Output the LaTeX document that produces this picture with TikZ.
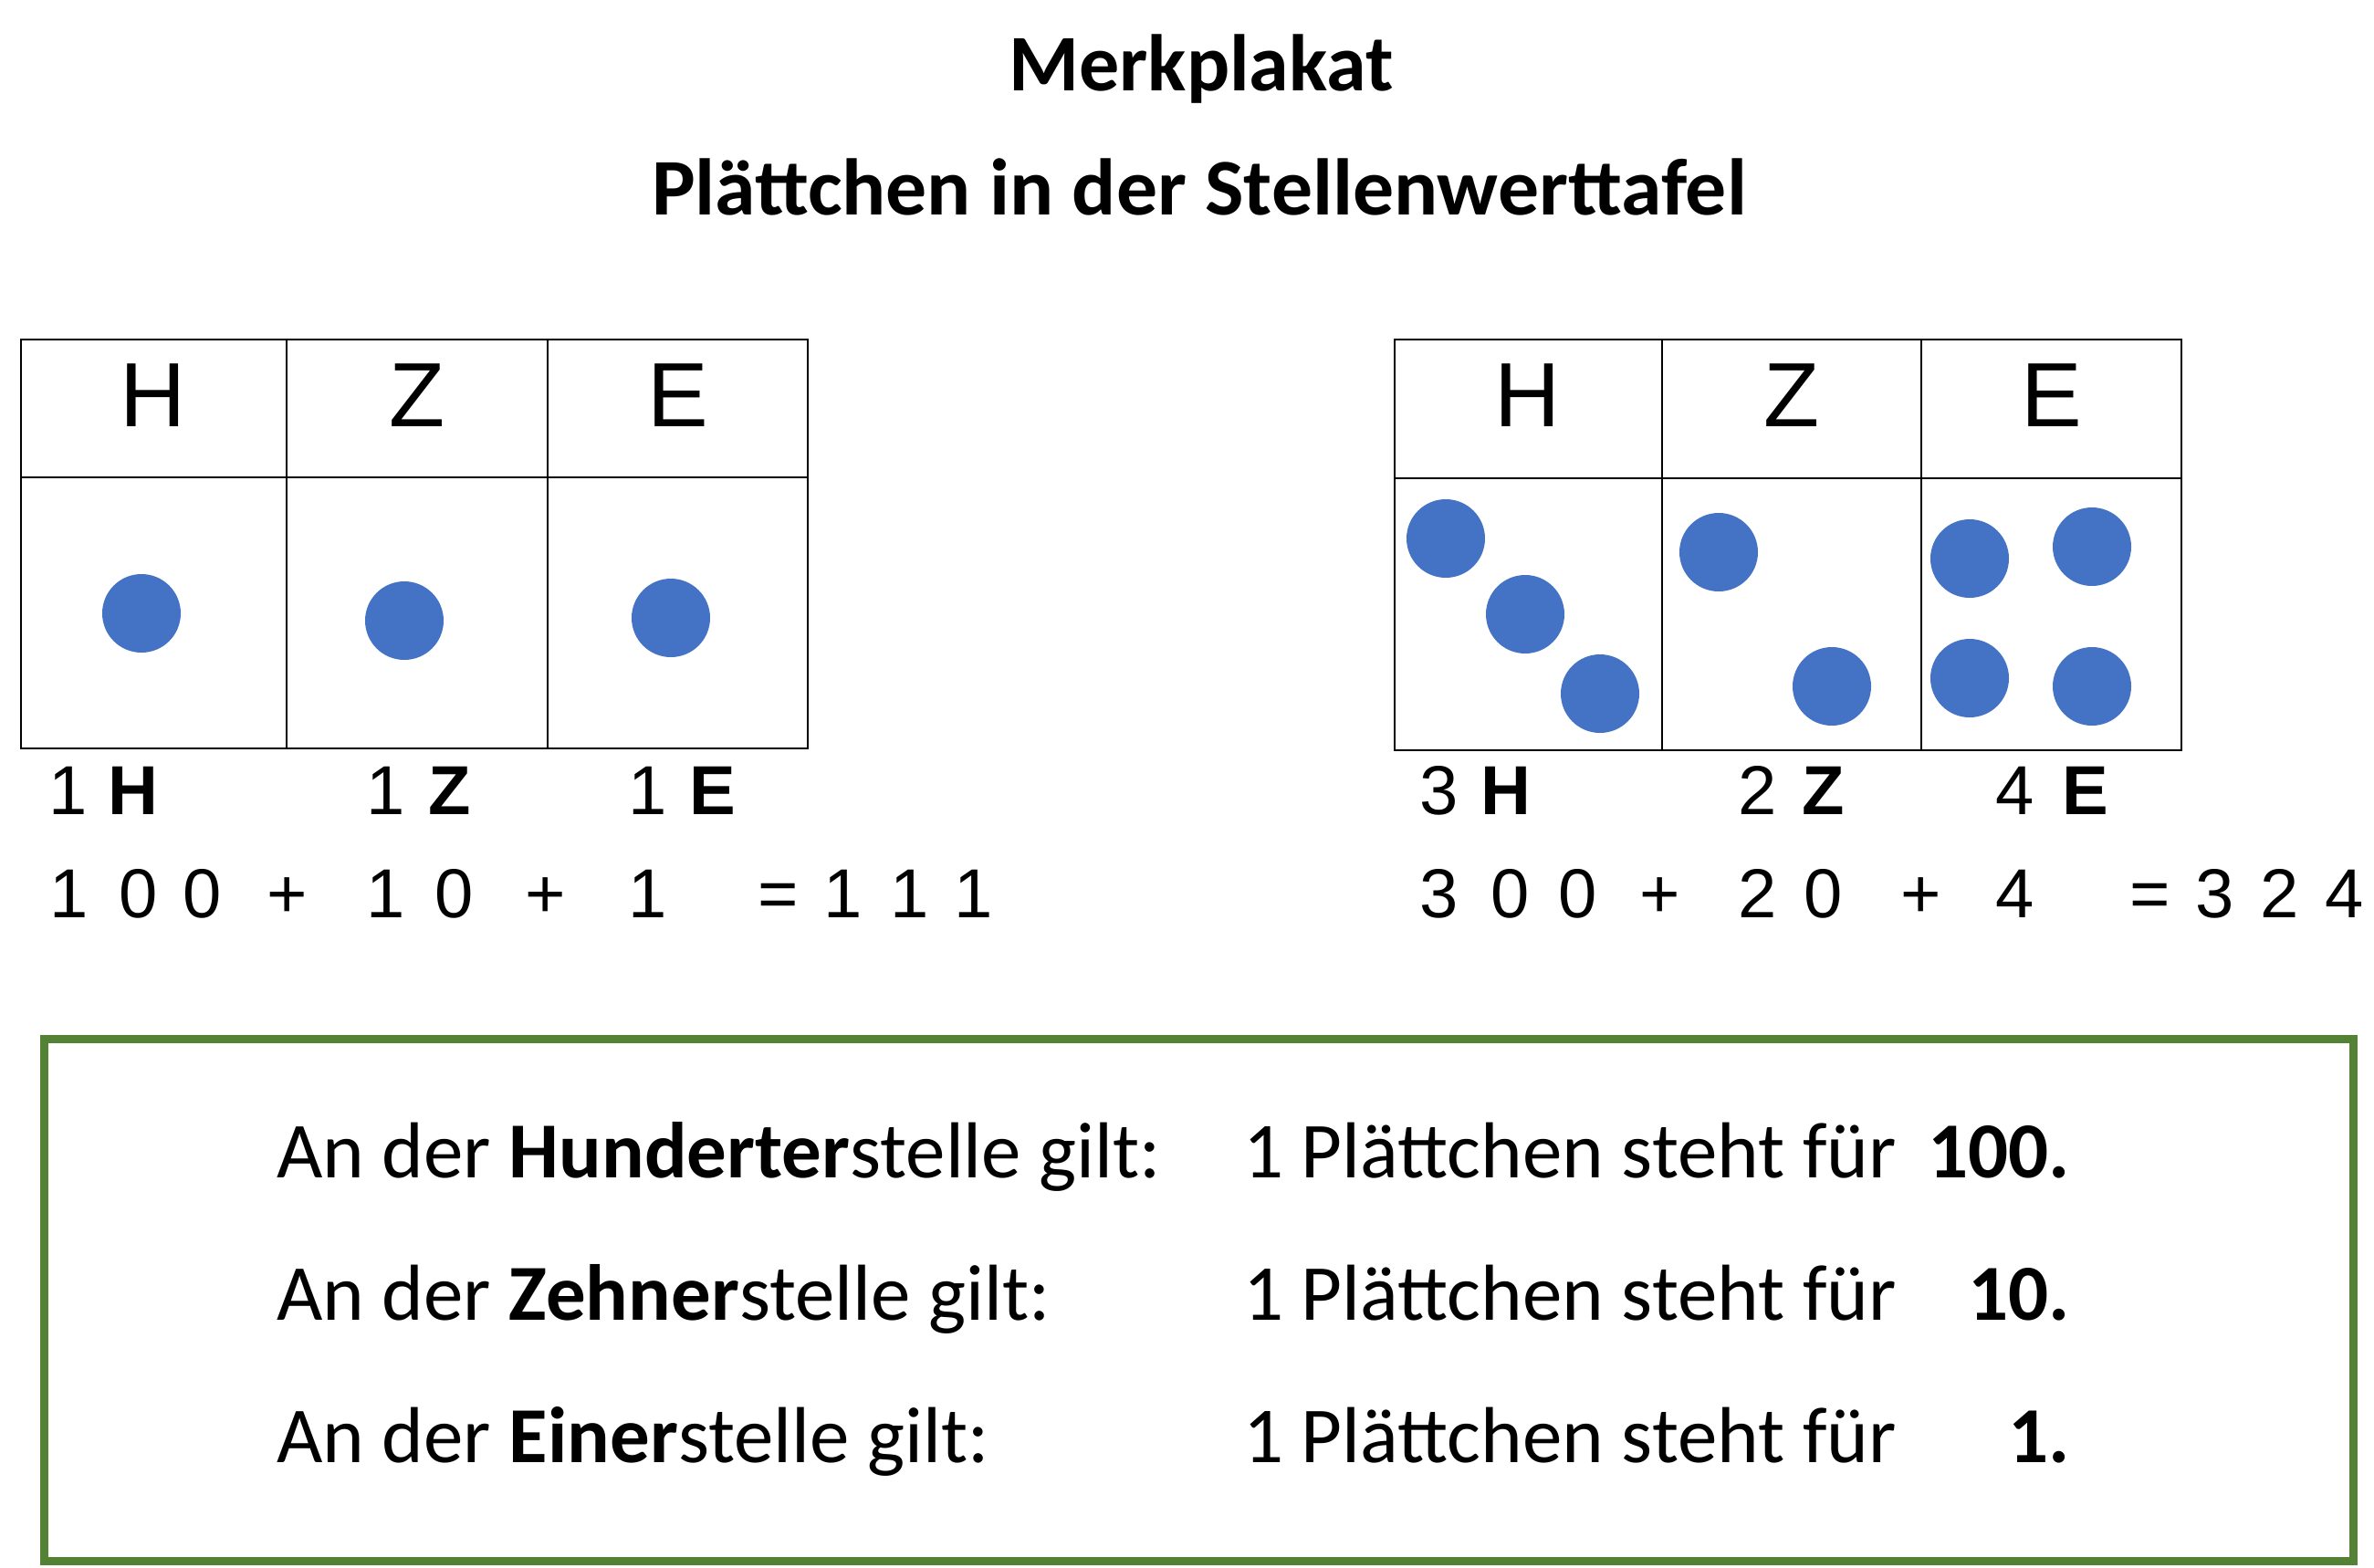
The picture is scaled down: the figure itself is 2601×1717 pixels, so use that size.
\documentclass[tikz,border=0pt]{standalone}
\usepackage{fontspec}
\setmainfont{Carlito}
\newfontfamily\arialfont{Liberation Sans}
\usetikzlibrary{positioning}
\definecolor{plaettchen}{RGB}{68,114,196}
\definecolor{rahmen}{RGB}{84,130,53}

\begin{document}
\begin{tikzpicture}[x=1pt,y=-1pt,
  cell/.style={draw,line width=2.5pt},
  hd/.style={font=\arialfont\fontsize{100}{110}\selectfont,inner sep=0pt,anchor=base},
  dot/.style={circle,fill=plaettchen,minimum size=86pt,inner sep=0pt},
  num/.style={font=\arialfont\fontsize{76}{80}\selectfont,inner sep=0pt,anchor=base},
  ttl/.style={font=\bfseries\fontsize{88}{96}\selectfont,inner sep=0pt,anchor=base},
  txt/.style={font=\fontsize{87}{96}\selectfont,inner sep=0pt,anchor=base west},
  wert/.style={font=\bfseries\fontsize{87}{96}\selectfont,inner sep=0pt,anchor=base east}
]
\useasboundingbox (0,0) rectangle (2601,1717);

% Ueberschrift
\node[ttl] (titel) at (1316,99) {Merkplakat};
\node[ttl,xscale=1.02] (untertitel) at (1314,235) {Plättchen in der Stellenwerttafel};

% linke Stellenwerttafel: 111
\draw[cell] (23,372) rectangle (885,820);
\draw[cell] (23,523) -- (885,523);
\foreach \x in {314,600}
  \draw[cell] (\x,372) -- (\x,820);
\foreach \x/\t in {168/H,457/Z,743/E}
  \node[hd] (l\t) at (\x,467) {\t};
\node[dot] (lH1) at (155,672) {};
\node[dot] (lZ1) at (443,680) {};
\node[dot] (lE1) at (735,677) {};

% rechte Stellenwerttafel: 324
\draw[cell] (1528,372) rectangle (2390,822);
\draw[cell] (1528,524) -- (2390,524);
\foreach \x in {1821,2105}
  \draw[cell] (\x,372) -- (\x,822);
\foreach \x/\t in {1674/H,1963/Z,2248/E}
  \node[hd] (r\t) at (\x,467) {\t};
\node[dot] (rH1) at (1584,590) {};
\node[dot] (rH2) at (1671,673) {};
\node[dot] (rH3) at (1753,760) {};
\node[dot] (rZ1) at (1883,605) {};
\node[dot] (rZ2) at (2007,752) {};
\node[dot] (rE1) at (2158,612) {};
\node[dot] (rE2) at (2292,599) {};
\node[dot] (rE3) at (2158,743) {};
\node[dot] (rE4) at (2292,752) {};

% Anzahl der Plaettchen
\foreach \x/\t [count=\i] in {75/1,146/\textbf{H},423/1,493/\textbf{Z},710/1,781/\textbf{E},
    1577/3,1650/\textbf{H},1926/2,1998/\textbf{Z},2208/4,2285/\textbf{E}}
  \node[num] (anz\i) at (\x,892) {\t};

% Zerlegung
\foreach \x/\t [count=\i] in {76/1,152/0,222/0,315/+,423/1,498/0,598/+,710/1,853/=,924/1,997/1,1067/1}
  \node[num] (eqL\i) at (\x,1005) {\t};
\foreach \x/\t [count=\i] in {1577/3,1655/0,1729/0,1819/+,1926/2,1998/0,2105/+,2208/4,2356/=,2427/3,2498/2,2569/4}
  \node[num] (eqR\i) at (\x,1005) {\t};

% Merksatz
\draw[rahmen,line width=9pt] (48,1138) rectangle (2578,1710);
\node[txt] (satzH) at (303,1290) {An der \textbf{Hunderter}stelle gilt:};
\node[txt] (satzZ) at (303,1446) {An der \textbf{Zehner}stelle gilt:};
\node[txt] (satzE) at (303,1602) {An der \textbf{Einer}stelle gilt:};
\foreach \y/\n in {1290/H,1446/Z,1602/E}
  \node[txt] (pl\n) at (1362,\y) {1 Plättchen steht für};
\node[wert] (wertH) at (2268,1290) {100.};
\node[wert] (wertZ) at (2268,1446) {10.};
\node[wert] (wertE) at (2268,1602) {1.};
\end{tikzpicture}
\end{document}
